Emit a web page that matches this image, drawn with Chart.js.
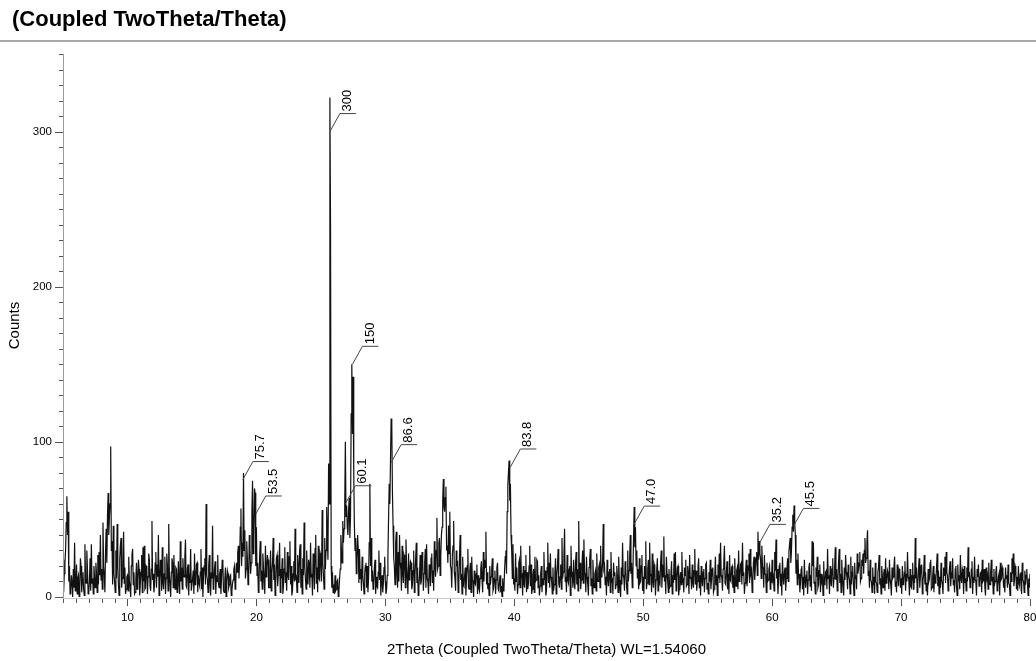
<!DOCTYPE html>
<html>
<head>
<meta charset="utf-8">
<script src="https://cdn.jsdelivr.net/npm/chart.js@4.4.0/dist/chart.umd.min.js"></script>
<style>
  html, body { margin: 0; padding: 0; background: #fff; }
  #wrap { position: relative; width: 1036px; height: 661px; }
  #head {
    position: absolute; left: 0; top: 0; width: 1036px; height: 42px;
    border-bottom: 2px solid #a8a8a8; box-sizing: border-box;
    font: bold 22px "Liberation Sans", Arial, sans-serif; color: #000;
    line-height: 38px; padding-left: 12px;
  }
  canvas { position: absolute; left: 0; top: 0; }
</style>
</head>
<body>
<div id="wrap">
  <canvas id="xrdCanvas" width="1036" height="661"></canvas>
  <div id="head">(Coupled TwoTheta/Theta)</div>
</div>
<script>
// scan settings (2Theta in degrees)
var twoThetaStart = 5;
var twoThetaStep = 0.05;

// counts, one row per degree (x.00 .. x.95)
var counts = [
  24,3,15,22,30,48,65,40,55,10,20,2,4,14,9,0,18,6,35,4,          // 5
  8,21,2,12,14,0,6,25,20,3,11,16,5,1,34,12,9,30,17,2,            // 6
  3,10,25,4,34,9,12,2,20,13,6,22,15,3,27,8,29,14,40,11,          // 7
  18,5,48,20,14,3,30,44,22,52,67,40,52,60,97,30,36,8,46,15,      // 8
  10,3,30,12,47,20,8,1,24,33,38,6,12,20,42,9,19,2,5,13,          // 9
  14,4,26,10,7,0,20,27,31,8,16,2,3,12,22,5,11,24,18,1,           // 10
  9,16,27,3,32,10,33,5,6,20,19,2,13,28,24,7,4,18,49,11,          // 11
  15,3,8,22,29,6,21,13,40,1,10,24,17,4,32,9,5,15,26,2,           // 12
  12,28,20,4,47,15,9,0,16,25,22,6,27,12,5,19,18,3,11,23,         // 13
  8,2,36,10,19,5,25,14,13,26,37,7,6,18,21,1,15,9,31,4,           // 14
  4,12,17,2,28,8,10,21,22,3,14,9,7,16,31,5,19,0,13,20,           // 15
  25,8,60,14,11,3,20,27,8,1,16,12,46,5,9,18,23,2,14,10,          // 16
  27,9,6,15,18,2,12,24,21,4,3,11,19,0,10,17,15,6,8,13,           // 17
  14,1,4,9,11,18,20,5,9,22,16,28,33,12,24,45,57,20,35,26,        // 18
  80,30,43,12,18,36,25,8,12,40,31,15,22,55,75,28,40,70,67,20,    // 19
  45,14,22,3,8,26,36,10,17,5,28,19,11,2,33,13,19,27,24,6,        // 20
  6,17,30,4,15,22,38,11,21,1,9,25,27,7,14,20,35,3,18,12,         // 21
  25,2,7,18,32,9,16,4,29,14,11,26,36,8,20,1,4,15,23,10,          // 22
  44,12,13,3,27,19,9,30,34,6,18,2,25,14,48,20,12,5,30,16,        // 23
  8,24,21,6,35,13,15,1,28,20,5,31,40,9,19,3,33,12,11,28,         // 24
  26,10,56,22,14,5,38,18,30,58,40,24,86,60,322,238,20,6,16,3,    // 25
  8,2,14,4,5,10,11,0,3,12,18,40,30,22,49,35,44,58,100,52,        // 26
  59,45,40,56,64,38,52,118,150,105,142,80,46,30,38,15,24,40,31,9,// 27
  31,12,18,4,26,14,9,2,15,20,22,6,20,3,12,35,73,20,38,10,        // 28
  17,5,8,19,24,2,13,7,6,16,30,11,22,1,11,14,3,9,19,26,           // 29
  10,2,5,14,26,50,73,60,88,115,111,68,46,25,20,8,35,42,14,6,     // 30
  29,10,40,22,18,4,33,15,9,27,25,6,37,20,12,2,28,11,16,23,       // 31
  22,5,8,17,30,3,14,24,35,9,19,1,6,13,27,8,11,29,24,4,           // 32
  15,22,31,6,34,12,10,2,21,18,7,25,28,9,17,4,36,20,13,30,        // 33
  51,18,20,35,38,14,26,40,45,62,76,58,55,64,71,30,33,22,46,28,   // 34
  55,20,18,6,27,33,49,16,12,4,30,21,22,3,9,25,40,11,15,2,        // 35
  26,8,7,14,19,1,13,20,31,6,5,17,22,3,26,11,10,0,17,9,           // 36
  8,15,21,2,14,6,4,12,18,23,11,3,29,10,24,19,42,8,16,5,          // 37
  9,1,20,8,13,18,25,4,6,12,17,2,11,19,22,5,4,10,14,3,            // 38
  7,0,12,4,5,18,26,30,15,55,72,80,88,62,73,40,30,12,34,8,        // 39
  12,4,28,10,19,2,8,22,24,6,33,13,14,1,20,9,6,17,27,3,           // 40
  16,5,9,20,33,7,21,2,5,14,18,3,26,10,11,24,23,6,14,1,           // 41
  7,15,20,3,12,8,29,11,17,1,4,19,35,9,22,6,28,13,10,2,           // 42
  19,4,8,16,25,2,14,20,31,9,6,13,21,5,38,12,16,26,44,10,         // 43
  13,3,27,11,9,18,20,1,33,14,15,6,24,10,5,22,29,8,18,4,          // 44
  49,12,22,5,11,20,30,9,37,16,14,3,26,13,8,1,19,24,31,7,         // 45
  12,2,24,9,6,15,17,4,28,11,10,19,21,6,33,13,15,22,47,18,        // 46
  20,8,13,1,24,12,7,16,18,3,29,10,11,2,22,14,16,5,8,20,          // 47
  14,3,26,11,5,0,19,8,35,14,12,4,23,18,9,2,30,10,17,26,          // 48
  40,15,22,6,14,38,58,32,45,20,30,12,18,5,25,9,10,20,27,4,       // 49
  13,2,20,12,36,5,9,18,24,8,35,14,15,3,28,10,6,21,19,1,          // 50
  11,18,25,4,17,9,8,22,30,6,21,13,39,10,14,2,26,15,10,3,         // 51
  18,6,7,15,23,2,14,9,28,11,29,4,12,19,20,1,5,13,16,8,           // 52
  29,10,11,3,19,14,24,7,8,20,15,2,27,12,13,5,21,9,6,17,          // 53
  31,8,17,4,10,19,25,6,14,1,20,11,7,16,18,3,12,21,22,5,          // 54
  9,2,16,10,24,5,11,18,19,3,5,13,26,8,14,1,21,12,28,9,           // 55
  35,14,12,4,18,22,33,9,8,16,23,5,15,2,27,11,10,19,20,6,         // 56
  14,3,25,12,7,17,19,5,30,10,12,21,22,8,35,14,16,2,9,18,         // 57
  24,7,13,20,28,9,31,15,17,3,10,22,26,11,19,25,29,14,42,24,      // 58
  36,28,25,12,33,20,18,6,27,15,14,3,22,10,11,18,20,5,16,9,       // 59
  24,11,13,4,29,17,37,12,18,2,10,20,22,7,15,1,26,13,8,16,        // 60
  19,4,12,18,25,10,29,34,38,22,30,45,53,42,59,48,40,15,24,8,     // 61
  28,12,15,3,9,18,20,5,13,1,24,10,6,14,17,2,11,19,22,7,          // 62
  14,4,36,20,35,9,10,2,19,13,26,6,8,17,21,3,15,10,12,1,          // 63
  23,8,9,16,17,5,31,12,14,2,20,10,7,18,25,6,12,20,32,11,         // 64
  18,4,10,22,31,9,15,3,24,13,8,1,19,11,27,16,13,5,21,14,         // 65
  11,2,26,8,16,20,9,1,22,12,14,5,28,15,18,22,29,10,12,24,        // 66
  20,28,15,30,38,22,25,35,43,14,17,6,24,11,10,3,19,8,13,2,       // 67
  22,10,9,3,16,19,27,8,12,2,20,13,6,15,18,4,25,9,11,17,          // 68
  15,5,24,11,8,1,19,12,13,20,26,7,10,3,21,14,7,18,17,6,          // 69
  12,2,20,8,9,16,23,4,15,10,29,13,11,1,18,7,6,14,22,5,           // 70
  14,9,38,12,19,3,8,17,25,6,13,20,21,2,10,15,27,8,16,4,          // 71
  9,1,18,10,12,22,24,5,6,13,20,3,15,9,11,19,28,7,17,2,           // 72
  13,6,22,11,8,2,19,14,26,9,29,16,14,4,10,18,23,7,16,12,         // 73
  25,8,11,3,18,20,7,1,21,10,14,5,27,12,9,18,16,2,20,9,           // 74
  12,4,19,10,32,14,15,6,8,18,23,2,13,9,26,11,10,1,18,13,         // 75
  21,7,9,15,16,3,24,10,11,18,6,1,19,12,14,5,22,9,8,16,           // 76
  24,10,13,2,18,8,10,16,20,4,7,13,15,1,22,11,12,19,17,6,         // 77
  9,3,19,12,14,6,21,9,8,1,16,10,25,15,28,7,11,20,18,5,           // 78
  13,4,20,9,7,15,16,2,22,11,10,3,17,8,14,18,9,1,12,6,            // 79
  15                                                             // 80
];

// peak annotations
var peakTwoTheta = [18.95, 19.95, 25.7, 26.9, 27.45, 30.45, 39.7, 49.3, 59.05, 61.65];
var peakCounts   = [75.7, 53.5, 300, 60.1, 150, 86.6, 83.8, 47.0, 35.2, 45.5];
var peakLabels   = ['75.7', '53.5', '300', '60.1', '150', '86.6', '83.8', '47.0', '35.2', '45.5'];

// axis ticks
var xTickLabels = [10, 20, 30, 40, 50, 60, 70, 80];
var yTickLabels = [0, 100, 200, 300];

var points = counts.map(function(c, i) {
    return { x: +(twoThetaStart + i * twoThetaStep).toFixed(2), y: c };
});

// minor/major ticks, axis lines and peak labels
var decorPlugin = {
    id: 'xrdDecor',
    afterDraw: function(chart) {
        var ctx = chart.ctx;
        var xs = chart.scales.x, ys = chart.scales.y;
        var area = chart.chartArea;
        ctx.save();

        // y axis line
        ctx.strokeStyle = '#9a9a9a';
        ctx.lineWidth = 1;
        ctx.beginPath();
        ctx.moveTo(area.left + 0.5, ys.getPixelForValue(350));
        ctx.lineTo(area.left + 0.5, area.bottom + 3);
        ctx.stroke();

        // x axis line
        ctx.strokeStyle = '#c8c8c8';
        ctx.beginPath();
        ctx.moveTo(area.left, area.bottom + 1.5);
        ctx.lineTo(area.right, area.bottom + 1.5);
        ctx.stroke();

        ctx.strokeStyle = '#555';
        ctx.beginPath();
        for (var v = 0; v <= 350; v += 10) {
            var py = Math.round(ys.getPixelForValue(v)) + 0.5;
            var len = (v % 100 === 0) ? 8 : 4;
            ctx.moveTo(area.left - len, py);
            ctx.lineTo(area.left, py);
        }
        for (var t = 5; t <= 80; t += 1) {
            var px = Math.round(xs.getPixelForValue(t)) + 0.5;
            var l2 = (t % 10 === 0) ? 7 : 4;
            ctx.moveTo(px, area.bottom + 2);
            ctx.lineTo(px, area.bottom + 2 + l2);
        }
        ctx.stroke();

        // peak labels
        ctx.strokeStyle = '#444';
        ctx.fillStyle = '#000';
        ctx.font = '13px "Liberation Sans", Arial, sans-serif';
        ctx.textAlign = 'left';
        ctx.textBaseline = 'top';
        for (var i = 0; i < peakLabels.length; i++) {
            var x0 = xs.getPixelForValue(peakTwoTheta[i]);
            var y0 = ys.getPixelForValue(peakCounts[i]);
            var x1 = x0 + 10, y1 = y0 - 18;
            ctx.beginPath();
            ctx.moveTo(x0, y0);
            ctx.lineTo(x1, y1);
            ctx.lineTo(x1 + 16, y1);
            ctx.stroke();
            ctx.save();
            ctx.translate(x1 + 1, y1 - 2);
            ctx.rotate(-Math.PI / 2);
            ctx.fillText(peakLabels[i], 0, 0);
            ctx.restore();
        }
        ctx.restore();
    }
};

var ctx = document.getElementById('xrdCanvas').getContext('2d');
var xrdChart = new Chart(ctx, {
    type: 'line',
    data: {
        datasets: [{
            label: 'Counts',
            data: points,
            borderColor: '#111',
            borderWidth: 1.2,
            pointRadius: 0,
            tension: 0,
            fill: false
        }]
    },
    options: {
        responsive: false,
        animation: false,
        layout: { padding: { left: 0, right: 6, top: 54, bottom: 0 } },
        plugins: {
            legend: { display: false },
            tooltip: { enabled: false }
        },
        scales: {
            x: {
                type: 'linear',
                min: 5,
                max: 80,
                border: { display: false },
                grid: { display: false, drawTicks: false },
                ticks: {
                    stepSize: 10,
                    padding: 14,
                    color: '#000',
                    font: { family: '"Liberation Sans", Arial, sans-serif', size: 11.5 },
                    maxRotation: 0,
                    autoSkip: false,
                    callback: function(value) {
                        return xTickLabels.indexOf(value) >= 0 ? value : '';
                    }
                },
                title: {
                    display: true,
                    text: '2Theta (Coupled TwoTheta/Theta) WL=1.54060',
                    color: '#000',
                    font: { family: '"Liberation Sans", Arial, sans-serif', size: 15 },
                    padding: { top: 0, bottom: 2 }
                },
                afterFit: function(scale) {
                    scale.height = 64;
                    scale.paddingLeft = 0;
                    scale.paddingRight = 0;
                }
            },
            y: {
                min: 0,
                max: 350,
                border: { display: false },
                grid: { display: false, drawTicks: false },
                ticks: {
                    stepSize: 100,
                    padding: 11,
                    color: '#000',
                    font: { family: '"Liberation Sans", Arial, sans-serif', size: 11.5 },
                    callback: function(value) {
                        return yTickLabels.indexOf(value) >= 0 ? value : '';
                    }
                },
                title: {
                    display: true,
                    text: 'Counts',
                    color: '#000',
                    font: { family: '"Liberation Sans", Arial, sans-serif', size: 15 },
                    padding: { top: 6, bottom: 0 }
                },
                afterFit: function(scale) { scale.width = 63; }
            }
        }
    },
    plugins: [decorPlugin]
});
</script>
</body>
</html>
